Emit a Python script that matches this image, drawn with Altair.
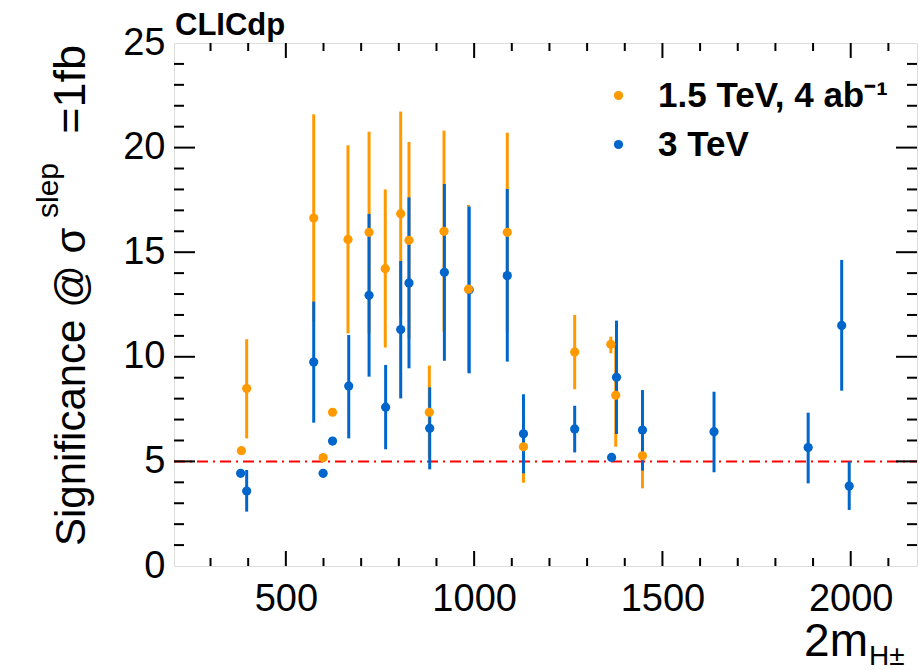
import altair as alt
import pandas as pd

# ---------------- data ----------------
lab_15 = "1.5 TeV, 4 ab\u207b\u00b9"
lab_3 = "3 TeV"

orange_mass = [382, 396, 574, 599, 624, 665, 721, 764, 805, 827, 881, 920, 985, 1088, 1131, 1267, 1363, 1376, 1447]
orange_val = [5.51, 8.48, 16.63, 5.18, 7.35, 15.61, 15.95, 14.21, 16.84, 15.57, 7.35, 16.0, 13.23, 15.95, 5.70, 10.23, 10.60, 8.16, 5.27]
orange_lo = [5.51, 6.10, 11.68, 5.18, 7.35, 11.12, 11.12, 10.44, 11.95, 10.87, 5.15, 11.2, 9.24, 11.2, 3.98, 8.45, 10.17, 5.70, 3.71]
orange_hi = [5.51, 10.84, 21.59, 5.18, 7.35, 20.11, 20.76, 18.0, 21.72, 20.27, 9.58, 20.81, 17.26, 20.71, 7.41, 12.0, 10.96, 10.65, 6.82]

blue_mass = [380, 396, 574, 599, 624, 667, 721, 765, 805, 827, 882, 921, 987, 1088, 1131, 1267, 1365, 1378, 1447, 1637, 1887, 1976, 1996]
blue_val = [4.43, 3.58, 9.75, 4.43, 5.97, 8.60, 12.94, 7.59, 11.30, 13.53, 6.58, 14.04, 13.2, 13.88, 6.32, 6.55, 5.19, 9.02, 6.50, 6.42, 5.66, 11.50, 3.82]
blue_lo = [4.43, 2.60, 6.85, 4.43, 5.97, 6.10, 9.05, 5.58, 8.01, 9.45, 4.62, 9.81, 9.21, 9.77, 4.43, 5.43, 5.19, 6.31, 4.56, 4.48, 3.95, 8.38, 2.68]
blue_hi = [4.43, 4.59, 12.64, 4.43, 5.97, 11.04, 16.83, 9.61, 14.58, 17.62, 8.54, 18.26, 17.18, 18.02, 8.21, 7.66, 5.19, 11.73, 8.41, 8.33, 7.33, 14.63, 4.99]

threshold = [5]

x_major = [500, 1000, 1500, 2000]
x_minor = [300, 400, 600, 700, 800, 900, 1100, 1200, 1300, 1400, 1600, 1700, 1800, 1900, 2100]
y_labels = [0, 5, 10, 15, 20, 25]
y_major = [5, 10, 15, 20]
y_minor = [1, 2, 3, 4, 6, 7, 8, 9, 11, 12, 13, 14, 16, 17, 18, 19, 21, 22, 23, 24]

X_DOMAIN = [203, 2176]
Y_DOMAIN = [0, 25]
W, H = 743, 523
FONT = "Liberation Sans"
ORANGE = "#ff9900"
BLUE = "#0066cc"

df_o = pd.DataFrame({"m": orange_mass, "v": orange_val, "lo": orange_lo, "hi": orange_hi, "s": lab_15})
df_b = pd.DataFrame({"m": blue_mass, "v": blue_val, "lo": blue_lo, "hi": blue_hi, "s": lab_3})

xs = alt.Scale(domain=X_DOMAIN, nice=False, zero=False)
ys = alt.Scale(domain=Y_DOMAIN, nice=False)
cs = alt.Scale(domain=[lab_15, lab_3], range=[ORANGE, BLUE])

xax = alt.Axis(values=x_major, format="d", title=None, domain=False, ticks=False, grid=False,
               labelFontSize=38, labelFont=FONT, labelColor="black", labelPadding=14,
               labelFlush=False)
yax = alt.Axis(values=y_labels, format="d", title=None, domain=False, ticks=False, grid=False,
               labelFontSize=38, labelFont=FONT, labelColor="black", labelPadding=9,
               labelBaseline="middle", labelFlush=False)

# error bars
bars_o = alt.Chart(df_o).mark_rule(strokeWidth=3, color=ORANGE).encode(
    x=alt.X("m:Q", scale=xs, axis=xax), y=alt.Y("lo:Q", scale=ys, axis=yax), y2="hi:Q")
bars_b = alt.Chart(df_b).mark_rule(strokeWidth=3, color=BLUE).encode(
    x=alt.X("m:Q", scale=xs), y=alt.Y("lo:Q", scale=ys), y2="hi:Q")

# points
pts_b = alt.Chart(df_b).mark_circle(size=85, opacity=1).encode(
    x=alt.X("m:Q", scale=xs), y=alt.Y("v:Q", scale=ys),
    color=alt.Color("s:N", scale=cs, title=None,
                    legend=alt.Legend(orient="none", legendX=427, legendY=35, padding=0,
                                      symbolType="circle", symbolSize=85, symbolStrokeWidth=0,
                                      labelFontSize=35, labelFont=FONT, labelFontWeight="bold",
                                      labelColor="black", labelOffset=22, rowPadding=13,
                                      labelLimit=0, title=None)))
pts_o = alt.Chart(df_o).mark_circle(size=85, opacity=1).encode(
    x=alt.X("m:Q", scale=xs), y=alt.Y("v:Q", scale=ys),
    color=alt.Color("s:N", scale=cs, legend=None))

# threshold line
thr = alt.Chart(pd.DataFrame({"t": threshold})).mark_rule(
    color="#ff0000", strokeWidth=2, strokeDash=[11, 5, 2, 5]).encode(
    y=alt.Y("t:Q", scale=ys), x=alt.value(0), x2=alt.value(W))

# inward ticks
def xticks(vals, length):
    d = pd.DataFrame({"t": vals})
    bot = alt.Chart(d).mark_rule(color="black", strokeWidth=2).encode(
        x=alt.X("t:Q", scale=xs), y=alt.value(H), y2=alt.value(H - length))
    top = alt.Chart(d).mark_rule(color="black", strokeWidth=2).encode(
        x=alt.X("t:Q", scale=xs), y=alt.value(0), y2=alt.value(length))
    return [bot, top]

def yticks(vals, length):
    d = pd.DataFrame({"t": vals})
    left = alt.Chart(d).mark_rule(color="black", strokeWidth=2).encode(
        y=alt.Y("t:Q", scale=ys), x=alt.value(0), x2=alt.value(length))
    right = alt.Chart(d).mark_rule(color="black", strokeWidth=2).encode(
        y=alt.Y("t:Q", scale=ys), x=alt.value(W), x2=alt.value(W - length))
    return [left, right]

ticks = xticks(x_major, 15) + xticks(x_minor, 8) + yticks(y_major, 21) + yticks(y_minor, 10)

# texts
def txt(s, x, y, size, align="left", angle=0, weight="normal", baseline="alphabetic"):
    kw = dict(text=s, fontSize=size, font=FONT, align=align, baseline=baseline,
              fontWeight=weight, color="black")
    if angle:
        kw["angle"] = angle
    return alt.Chart(pd.DataFrame({"a": [0]})).mark_text(**kw).encode(
        x=alt.value(x), y=alt.value(y))

texts = [
    txt("CLICdp", 1, -8, 31, weight="bold"),
    txt("Significance @ \u03c3", -89, 503, 42, angle=270),
    txt("slep", -116, 175, 30, angle=270),
    txt("=1fb", -89, 2, 45, align="right", angle=270),
    txt("2m", 694, 613, 46, align="right"),
    txt("H\u00b1", 695, 622, 28),
]

chart = alt.layer(thr, bars_o, bars_b, pts_b, pts_o, *ticks, *texts).resolve_scale(
    color="shared"
).properties(
    width=W, height=H,
    autosize=alt.AutoSizeParams(type="none"),
    padding={"left": 174, "top": 43, "right": 2, "bottom": 104},
).configure_view(stroke="black", strokeWidth=2.5).configure(background="white")

chart.save("out.html", embed_options={"renderer": "svg", "actions": False})
